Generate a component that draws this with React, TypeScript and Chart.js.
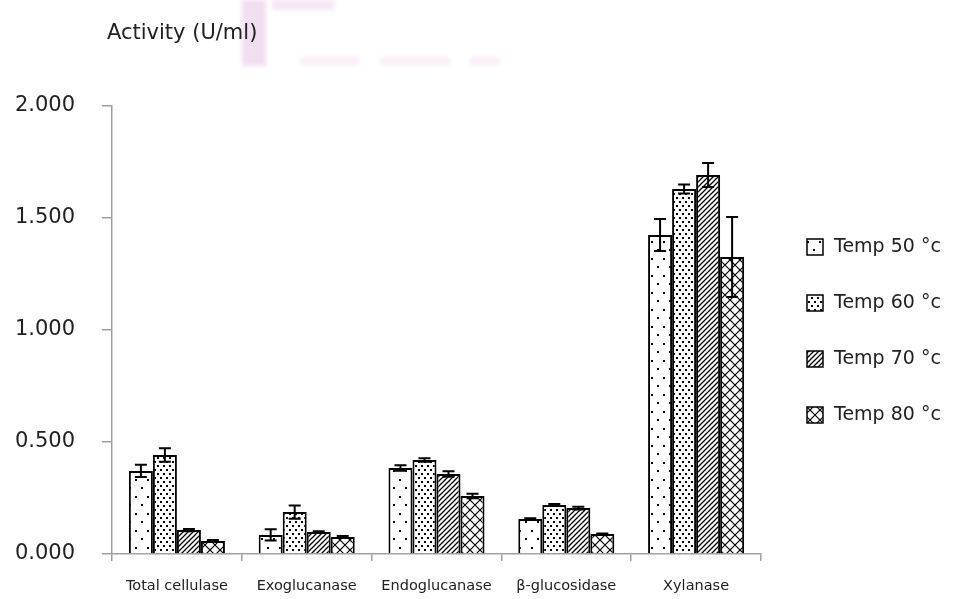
import React, { useEffect, useRef } from "react";
import { Chart, registerables } from "chart.js";

Chart.register(...registerables);

const categories = ["Total cellulase", "Exoglucanase", "Endoglucanase", "β-glucosidase", "Xylanase"];
const seriesLabels = ["Temp 50 °c", "Temp 60 °c", "Temp 70 °c", "Temp 80 °c"];
const temp50 = [0.371, 0.085, 0.384, 0.156, 1.424];
const temp60 = [0.442, 0.187, 0.42, 0.219, 1.629];
const temp70 = [0.107, 0.098, 0.357, 0.205, 1.692];
const temp80 = [0.058, 0.076, 0.259, 0.089, 1.326];
const err50 = [0.027, 0.025, 0.012, 0.004, 0.071];
const err60 = [0.03, 0.03, 0.008, 0.004, 0.02];
const err70 = [0.005, 0.004, 0.012, 0.006, 0.054];
const err80 = [0.004, 0.004, 0.01, 0.003, 0.179];
const yTitle = "Activity (U/ml)";

function makePattern(kind: number): CanvasPattern | string {
  const c = document.createElement("canvas");
  const ctx = c.getContext("2d")!;
  if (kind === 0) {
    c.width = 12; c.height = 17;
    ctx.fillStyle = "#fff"; ctx.fillRect(0, 0, 12, 17);
    ctx.fillStyle = "#000";
    ctx.fillRect(3, 3, 2, 2);
    ctx.fillRect(9, 11, 2, 2);
  } else if (kind === 1) {
    c.width = 6; c.height = 8;
    ctx.fillStyle = "#fff"; ctx.fillRect(0, 0, 6, 8);
    ctx.fillStyle = "#000";
    ctx.fillRect(1, 1, 2, 2);
    ctx.fillRect(4, 5, 2, 2);
  } else if (kind === 2) {
    c.width = 5; c.height = 5;
    ctx.fillStyle = "#fff"; ctx.fillRect(0, 0, 5, 5);
    ctx.strokeStyle = "#000"; ctx.lineWidth = 1.3;
    ctx.beginPath();
    ctx.moveTo(-1, 6); ctx.lineTo(6, -1);
    ctx.moveTo(-1, 1); ctx.lineTo(1, -1);
    ctx.moveTo(4, 6); ctx.lineTo(6, 4);
    ctx.stroke();
  } else {
    c.width = 10; c.height = 10;
    ctx.fillStyle = "#fff"; ctx.fillRect(0, 0, 10, 10);
    ctx.strokeStyle = "#000"; ctx.lineWidth = 1.2;
    ctx.beginPath();
    ctx.moveTo(0, 0); ctx.lineTo(10, 10);
    ctx.moveTo(10, 0); ctx.lineTo(0, 10);
    ctx.stroke();
  }
  return ctx.createPattern(c, "repeat") || "#fff";
}

export default function App() {
  const ref = useRef<HTMLCanvasElement | null>(null);

  useEffect(() => {
    document.body.style.margin = "0";
    const canvas = ref.current!;
    const patterns = [0, 1, 2, 3].map(makePattern);
    const values = [temp50, temp60, temp70, temp80];
    const errors = [err50, err60, err70, err80];

    const watermark = {
      id: "watermark",
      beforeDraw(chart: any) {
        const ctx = chart.ctx;
        ctx.save();
        ctx.filter = "blur(2px)";
        ctx.fillStyle = "rgba(215, 160, 215, 0.35)";
        ctx.fillRect(242, 0, 24, 66);
        ctx.fillStyle = "rgba(215, 160, 215, 0.25)";
        ctx.fillRect(272, 0, 62, 10);
        ctx.fillStyle = "rgba(215, 160, 215, 0.18)";
        ctx.fillRect(300, 57, 60, 8);
        ctx.fillRect(380, 57, 70, 8);
        ctx.fillRect(470, 57, 30, 8);
        ctx.restore();
      },
    };

    const errorBars = {
      id: "errorBars",
      afterDatasetsDraw(chart: any) {
        const ctx = chart.ctx;
        const y = chart.scales.y;
        ctx.save();
        ctx.strokeStyle = "#000";
        ctx.lineWidth = 2;
        chart.data.datasets.forEach((ds: any, di: number) => {
          const meta = chart.getDatasetMeta(di);
          meta.data.forEach((bar: any, i: number) => {
            const v = values[di][i];
            const e = errors[di][i];
            const top = y.getPixelForValue(v + e);
            const bot = y.getPixelForValue(v - e);
            const x = bar.x;
            ctx.beginPath();
            ctx.moveTo(x, top); ctx.lineTo(x, bot);
            ctx.moveTo(x - 6, top); ctx.lineTo(x + 6, top);
            ctx.moveTo(x - 6, bot); ctx.lineTo(x + 6, bot);
            ctx.stroke();
          });
        });
        ctx.restore();
      },
    };

    const decorations = {
      id: "decorations",
      afterDraw(chart: any) {
        const ctx = chart.ctx;
        ctx.save();
        ctx.fillStyle = "#222";
        ctx.font = "21px 'DejaVu Sans'";
        ctx.textBaseline = "middle";
        ctx.textAlign = "left";
        ctx.fillText(yTitle, 107, 34);
        ctx.font = "19px 'DejaVu Sans'";
        seriesLabels.forEach((lab, i) => {
          const cy = 247 + i * 56;
          ctx.fillStyle = patterns[i] as any;
          ctx.fillRect(807, cy - 8, 16, 16);
          ctx.strokeStyle = "#000";
          ctx.lineWidth = 1.5;
          ctx.strokeRect(807, cy - 8, 16, 16);
          ctx.fillStyle = "#222";
          ctx.fillText(lab, 834, cy);
        });
        ctx.restore();
      },
    };

    const chart = new Chart(canvas, {
      type: "bar",
      data: {
        labels: categories,
        datasets: values.map((vals, i) => ({
          label: seriesLabels[i],
          data: vals,
          backgroundColor: patterns[i] as any,
          borderColor: "#000",
          borderWidth: 2,
          borderSkipped: "bottom",
          categoryPercentage: 0.74,
          barPercentage: 1.0,
        })),
      },
      options: {
        responsive: false,
        animation: false,
        devicePixelRatio: 1,
        layout: { padding: { top: 106, right: 208, left: 0, bottom: 0 } },
        plugins: { legend: { display: false }, title: { display: false }, tooltip: { enabled: false } },
        scales: {
          x: {
            afterFit: (s: any) => { s.height = 45; },
            grid: { display: true, drawOnChartArea: false, drawTicks: true, tickLength: 7, color: "#a0a0a0", lineWidth: 1.5, offset: true },
            border: { display: true, color: "#a0a0a0", width: 1.5 },
            ticks: { color: "#222", font: { family: "DejaVu Sans", size: 14.5 }, padding: 17, maxRotation: 0, autoSkip: false },
          },
          y: {
            min: 0,
            max: 2,
            afterFit: (s: any) => { s.width = 112; },
            grid: { display: true, drawOnChartArea: false, drawTicks: true, tickLength: 10, color: "#a0a0a0", lineWidth: 1.5 },
            border: { display: true, color: "#a0a0a0", width: 1.5 },
            ticks: {
              stepSize: 0.5,
              padding: 27,
              color: "#222",
              font: { family: "DejaVu Sans", size: 21 },
              callback: (v: any) => Number(v).toFixed(3),
            },
          },
        },
      },
      plugins: [watermark, errorBars, decorations],
    });
    return () => chart.destroy();
  }, []);

  return (
    <div style={{ width: 969, height: 599, position: "relative" }}>
      <canvas ref={ref} width={969} height={599} style={{ display: "block" }} />
    </div>
  );
}
